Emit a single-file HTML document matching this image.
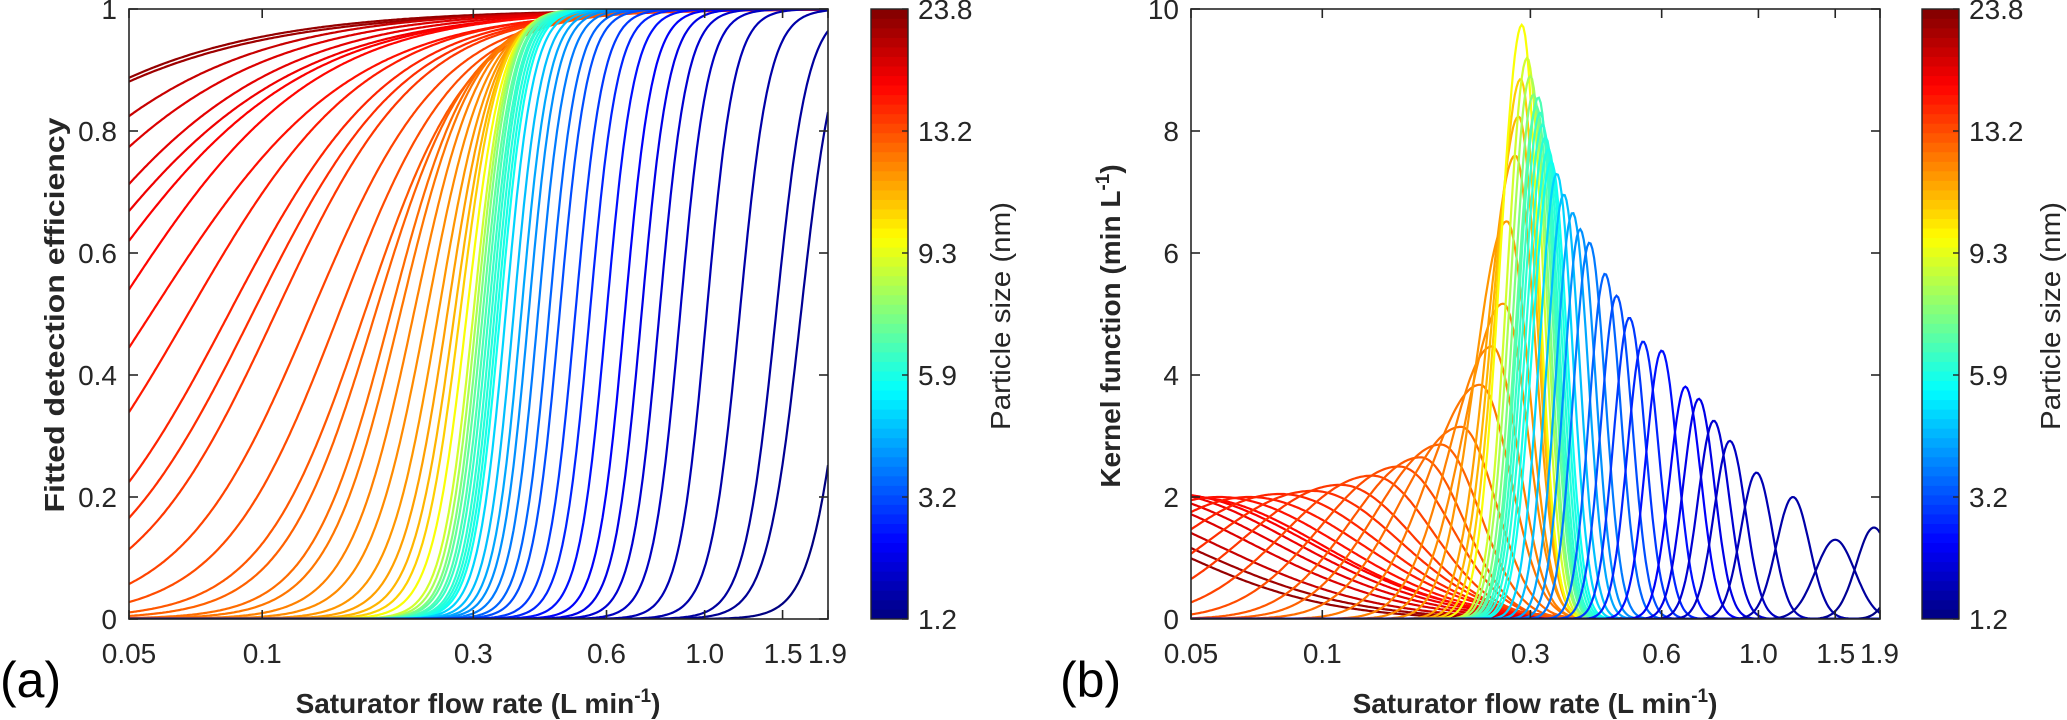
<!DOCTYPE html>
<html><head><meta charset="utf-8"><style>
html,body{margin:0;padding:0;background:#fff;}
svg{display:block;font-family:"Liberation Sans",Arial,sans-serif;}
</style></head><body>
<svg id="fig" width="2067" height="720" viewBox="0 0 2067 720" xmlns="http://www.w3.org/2000/svg">
<defs>
<clipPath id="clipA"><rect x="129" y="9" width="699" height="610"/></clipPath>
<clipPath id="clipB"><rect x="1191" y="9" width="689" height="610"/></clipPath>
</defs>
<g id="panelA"></g>
<g id="panelB"></g>
<text x="0" y="697" font-size="50">(a)</text>
<text x="1060" y="697" font-size="50">(b)</text>
<text x="478" y="713" font-size="28" font-weight="bold" fill="#262626" text-anchor="middle">Saturator flow rate (L min<tspan dy="-11" font-size="19">-1</tspan><tspan dy="11">)</tspan></text>
<text x="1535" y="713" font-size="28" font-weight="bold" fill="#262626" text-anchor="middle">Saturator flow rate (L min<tspan dy="-11" font-size="19">-1</tspan><tspan dy="11">)</tspan></text>
<text transform="translate(64,315) rotate(-90)" font-size="28" font-weight="bold" fill="#262626" text-anchor="middle" textLength="395" lengthAdjust="spacingAndGlyphs">Fitted detection efficiency</text>
<text transform="translate(1120,326) rotate(-90)" font-size="28" font-weight="bold" fill="#262626" text-anchor="middle">Kernel function (min L<tspan dy="-11" font-size="19">-1</tspan><tspan dy="11">)</tspan></text>
<text transform="translate(1010,316) rotate(-90)" font-size="28" fill="#262626" text-anchor="middle" textLength="228" lengthAdjust="spacingAndGlyphs">Particle size (nm)</text>
<text transform="translate(2060,316) rotate(-90)" font-size="28" fill="#262626" text-anchor="middle" textLength="228" lengthAdjust="spacingAndGlyphs">Particle size (nm)</text>
</svg>
<script>
// ---- data (ordered from largest particle size to smallest) ----
const sizes = [22.7,22.2,20.1,19.0,18.5,18.0,17.4,16.9,16.4,15.85,15.3,14.8,14.3,13.7,13.2,13.0,
 12.8,12.6,12.4,12.2,12.0,11.8,11.6,11.2,10.7,9.7,
 8.96,8.28,7.6,7.09,6.75,6.41,6.24,6.07,5.9,5.73,
 5.0,4.7,4.4,4.1,3.8,3.5,3.2,3.0,2.8,2.6,2.4,2.2,2.0,1.85,1.7,1.6,1.5,1.4,1.2];
// panel (a): fitted efficiency curve midpoints (L/min) and steepness (per decade)
const effMid = [.0117,.0112,.0186,.0234,.0291,.033,.038,.046,.056,.068,.084,.095,.107,.129,.149,.17,
 .18,.195,.205,.22,.235,.25,.262,.272,.28,.29,
 .30,.305,.31,.315,.32,.325,.33,.335,.34,.345,
 .355,.37,.385,.40,.42,.445,.47,.51,.55,.60,.66,.72,.79,.88,1.01,1.2,1.45,1.65,2.1];
const effSlope = [3.27,3.08,3.6,3.73,3.87,3.89,4.1,4.45,4.5,5,5.5,5.8,6.2,6.8,7.5,8.5,
 9.5,11,12,13.5,15,17,19,21,23,25,
 28,29,30,30,31,31,32,32,32,32,
 32,32,32,32,32,32,32,32,32,32,32,32,32,32,32,30,28,26,25];
// panel (b): kernel peak location (L/min), peak height (min/L), left/right widths (decades)
const kerPeak = [.02,.022,.025,.03,.035,.04,.045,.05,.058,.068,.08,.095,.11,.13,.15,.168,
 .187,.208,.23,.245,.26,.265,.277,.282,.285,.287,
 .295,.30,.305,.31,.313,.316,.32,.325,.33,.335,
 .345,.358,.375,.39,.41,.445,.473,.506,.544,.60,.68,.73,.79,.86,.99,1.2,1.5,1.84,2.3];
const kerHeight = [1.9,1.9,2.0,2.1,2.1,2.1,2.05,2.0,2.0,2.0,2.05,2.1,2.2,2.35,2.5,2.65,
 2.86,3.15,3.84,4.47,5.17,6.52,7.6,8.24,8.85,9.74,
 9.2,8.9,8.6,8.4,8.55,8.3,8.1,7.9,7.7,7.5,
 7.3,6.96,6.66,6.39,6.17,5.66,5.3,4.94,4.55,4.40,3.81,3.61,3.25,2.92,2.4,2.0,1.3,1.5,1.6];
const kerWidthLeft = [.35,.36,.36,.35,.34,.33,.32,.3,.28,.26,.25,.24,.22,.2,.18,.16,
 .15,.14,.12,.1,.09,.075,.065,.06,.055,.05,
 .046,.046,.045,.045,.045,.044,.044,.044,.043,.043,
 .04,.039,.038,.037,.037,.036,.036,.036,.036,.036,.036,.036,.036,.036,.036,.038,.045,.04,.04];
const kerWidthRight = [.35,.36,.36,.35,.34,.33,.32,.3,.28,.26,.23,.2,.17,.14,.12,.1,
 .09,.08,.07,.06,.055,.05,.045,.042,.04,.038,
 .037,.037,.036,.036,.036,.036,.036,.036,.036,.036,
 .036,.036,.036,.036,.036,.036,.036,.036,.036,.036,.036,.036,.036,.036,.036,.038,.045,.04,.04];
const xTicks = [0.05,0.1,0.3,0.6,1.0,1.5,1.9];
const xTickLabels = ["0.05","0.1","0.3","0.6","1.0","1.5","1.9"];
const yTicksA = [0,0.2,0.4,0.6,0.8,1];
const yTickLabelsA = ["0","0.2","0.4","0.6","0.8","1"];
const yTicksB = [0,2,4,6,8,10];
const yTickLabelsB = ["0","2","4","6","8","10"];
const cbTicks = [1.2,3.2,5.9,9.3,13.2,23.8];
const cbTickLabels = ["1.2","3.2","5.9","9.3","13.2","23.8"];

const NS="http://www.w3.org/2000/svg";
function mk(tag, attrs, parent){const e=document.createElementNS(NS,tag);for(const k in attrs)e.setAttribute(k,attrs[k]);parent.appendChild(e);return e;}
function jet(t){const c=v=>Math.round(255*Math.max(0,Math.min(1,v)));return `rgb(${c(1.5-Math.abs(4*t-3))},${c(1.5-Math.abs(4*t-2))},${c(1.5-Math.abs(4*t-1))})`;}
function sizeToT(s){for(let i=0;i<cbTicks.length-1;i++){if(s<=cbTicks[i+1]){return (i+(s-cbTicks[i])/(cbTicks[i+1]-cbTicks[i]))/(cbTicks.length-1);}}return 1;}
const QMIN=0.05,QMAX=1.9,TOP=9,BOT=619;
function makeX(x0,x1){return q=>x0+(Math.log10(q/QMIN)/Math.log10(QMAX/QMIN))*(x1-x0);}
function makeY(ymax){return v=>BOT-(v/ymax)*(BOT-TOP);}
const axCol="#262626";

function drawPanel(g,x0,x1,ymax,yTicks,yLabels,clipId,fn,cbx,pfx){
  const X=makeX(x0,x1),Y=makeY(ymax);
  const lines=mk('g',{'clip-path':`url(#${clipId})`},g);
  for(let i=0;i<sizes.length;i++){
    let d="";
    for(let j=0;j<=400;j++){const q=QMIN*Math.pow(QMAX/QMIN,j/400);const v=fn(i,q);d+=(j?"L":"M")+X(q).toFixed(1)+","+Y(v).toFixed(1);}
    const p=mk('path',{d:d,fill:'none',stroke:jet(sizeToT(sizes[i])),'stroke-width':2.2},lines);
    
    
  }
  const box=mk('rect',{x:x0,y:TOP,width:x1-x0,height:BOT-TOP,fill:'none',stroke:axCol,'stroke-width':1.6},g);
  
  
  for(let i=0;i<xTicks.length;i++){
    const x=X(xTicks[i]);
    mk('line',{x1:x,x2:x,y1:BOT,y2:BOT-9,stroke:axCol,'stroke-width':1.6},g);
    mk('line',{x1:x,x2:x,y1:TOP,y2:TOP+9,stroke:axCol,'stroke-width':1.6},g);
    const t=mk('text',{x:x,y:663,'font-size':28,fill:axCol,'text-anchor':i==xTicks.length-1?'start':(i==xTicks.length-2?'end':'middle')},g);
    if(i==xTicks.length-1)t.setAttribute('x',x-20);
    if(i==xTicks.length-2)t.setAttribute('x',x+20);
    t.textContent=xTickLabels[i];
    
    
  }
  for(let i=0;i<yTicks.length;i++){
    const y=Y(yTicks[i]);
    mk('line',{x1:x0,x2:x0+9,y1:y,y2:y,stroke:axCol,'stroke-width':1.6},g);
    mk('line',{x1:x1,x2:x1-9,y1:y,y2:y,stroke:axCol,'stroke-width':1.6},g);
    const t=mk('text',{x:x0-12,y:y+10,'font-size':28,fill:axCol,'text-anchor':'end'},g);
    t.textContent=yLabels[i];
    
    
  }
  const cb=mk('g',{},g);
  
  
  const n=64,h=(BOT-TOP)/n;
  for(let k=0;k<n;k++){mk('rect',{x:cbx,y:BOT-(k+1)*h-0.3,width:37,height:h+0.6,fill:jet((k+0.5)/n)},cb);}
  mk('rect',{x:cbx,y:TOP,width:37,height:BOT-TOP,fill:'none',stroke:axCol,'stroke-width':1.4},cb);
  for(let i=0;i<cbTicks.length;i++){
    const y=BOT-sizeToT(cbTicks[i])*(BOT-TOP);
    mk('line',{x1:cbx+37,x2:cbx+31,y1:y,y2:y,stroke:axCol,'stroke-width':1.4},cb);
    const t=mk('text',{x:cbx+47,y:y+10,'font-size':28,fill:axCol},cb);
    t.textContent=cbTickLabels[i];
    
    
  }
}
function kernel(i,q){const L=Math.log10(q/kerPeak[i]);const w=L<0?kerWidthLeft[i]:kerWidthRight[i];const z=L/w;return kerHeight[i]*Math.exp(-0.5*z*z);}
drawPanel(document.getElementById('panelA'),129,828,1,yTicksA,yTickLabelsA,'clipA',(i,q)=>1/(1+Math.exp(-effSlope[i]*Math.log10(q/effMid[i]))),871,'panel-a');
drawPanel(document.getElementById('panelB'),1191,1880,10,yTicksB,yTickLabelsB,'clipB',kernel,1922,'panel-b');
</script>
</body></html>
